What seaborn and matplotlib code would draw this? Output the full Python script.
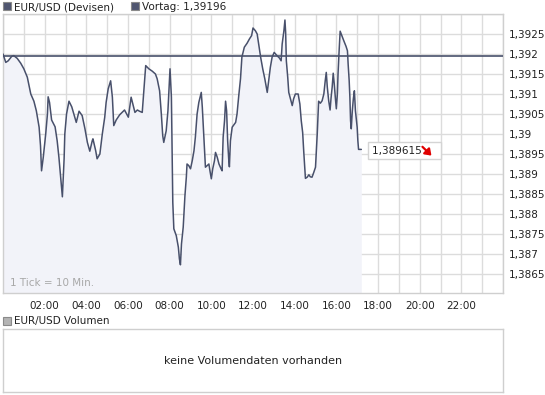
"""
EUR/USD intraday chart (Devisen) with previous close line and empty volume panel.
"""

import numpy as np
import pandas as pd
import matplotlib
matplotlib.use("Agg")
import matplotlib.pyplot as plt
from matplotlib.patches import Rectangle
from matplotlib.ticker import FixedLocator, FuncFormatter
import seaborn as sns

# Intraday quotes: minutes since 00:00 and price
MINUTES = [
    0, 8, 15, 25, 31, 41, 51, 60, 70, 80, 89, 96, 104, 108, 111, 116, 123, 128, 130, 134,
    140, 150, 156, 161, 166, 171, 176, 178, 183, 190, 198, 204, 211, 219, 228, 236, 243, 250, 257, 259,
    267, 271, 279, 286, 293, 297, 303, 310, 315, 319, 326, 336, 343, 350, 356, 361, 365, 369, 375, 380,
    387, 393, 401, 406, 411, 420, 430, 439, 444, 451, 456, 460, 463, 470, 475, 478, 481, 485, 487, 489,
    492, 499, 505, 508, 511, 514, 519, 521, 524, 528, 530, 535, 540, 545, 550, 554, 559, 564, 571, 574,
    576, 579, 583, 588, 593, 596, 600, 604, 609, 612, 617, 622, 628, 631, 634, 638, 641, 644, 647, 650,
    652, 655, 660, 665, 670, 674, 679, 684, 688, 695, 703, 710, 716, 720, 727, 732, 737, 742, 748, 754,
    761, 765, 770, 775, 781, 789, 796, 801, 804, 809, 812, 814, 816, 820, 823, 828, 833, 837, 842, 850,
    855, 859, 863, 866, 871, 876, 881, 885, 890, 895, 900, 905, 909, 914, 919, 924, 928, 931, 934, 938,
    942, 945, 948, 951, 954, 957, 960, 963, 965, 968, 971, 977, 982, 988, 992, 994, 997, 999, 1001, 1003,
    1006, 1009, 1012, 1015, 1020, 1022, 1024, 1032,
]
PRICES = [
    1.39200, 1.39179, 1.39183, 1.39194, 1.39196, 1.39189, 1.39177, 1.39163, 1.39142, 1.39100,
    1.39082, 1.39058, 1.39017, 1.38971, 1.38908, 1.38942, 1.39000, 1.39050, 1.39093, 1.39079,
    1.39035, 1.39018, 1.38983, 1.38942, 1.38892, 1.38843, 1.38938, 1.39000, 1.39050, 1.39082,
    1.39068, 1.39050, 1.39029, 1.39057, 1.39046, 1.39013, 1.38979, 1.38957, 1.38983, 1.38988,
    1.38958, 1.38938, 1.38950, 1.39000, 1.39042, 1.39079, 1.39113, 1.39133, 1.39092, 1.39021,
    1.39035, 1.39048, 1.39054, 1.39060, 1.39050, 1.39042, 1.39067, 1.39092, 1.39071, 1.39054,
    1.39060, 1.39057, 1.39054, 1.39113, 1.39171, 1.39163, 1.39157, 1.39150, 1.39138, 1.39108,
    1.39050, 1.38996, 1.38979, 1.39008, 1.39058, 1.39108, 1.39163, 1.39092, 1.38967, 1.38829,
    1.38763, 1.38746, 1.38717, 1.38688, 1.38673, 1.38725, 1.38767, 1.38800, 1.38846, 1.38892,
    1.38925, 1.38921, 1.38913, 1.38933, 1.38958, 1.38992, 1.39050, 1.39079, 1.39104, 1.39067,
    1.39033, 1.38983, 1.38917, 1.38921, 1.38925, 1.38908, 1.38888, 1.38913, 1.38933, 1.38954,
    1.38942, 1.38925, 1.38913, 1.38908, 1.38992, 1.39033, 1.39082, 1.39058, 1.38983, 1.38938,
    1.38918, 1.38983, 1.39017, 1.39023, 1.39029, 1.39050, 1.39096, 1.39138, 1.39192, 1.39217,
    1.39227, 1.39238, 1.39246, 1.39265, 1.39258, 1.39250, 1.39221, 1.39192, 1.39163, 1.39138,
    1.39104, 1.39133, 1.39167, 1.39192, 1.39204, 1.39196, 1.39190, 1.39183, 1.39225, 1.39258,
    1.39285, 1.39254, 1.39183, 1.39142, 1.39104, 1.39088, 1.39071, 1.39088, 1.39100, 1.39100,
    1.39075, 1.39033, 1.39004, 1.38958, 1.38889, 1.38892, 1.38898, 1.38893, 1.38892, 1.38904,
    1.38917, 1.39000, 1.39082, 1.39077, 1.39083, 1.39100, 1.39133, 1.39154, 1.39117, 1.39083,
    1.39060, 1.39092, 1.39117, 1.39152, 1.39125, 1.39092, 1.39063, 1.39100, 1.39152, 1.39208,
    1.39257, 1.39243, 1.39232, 1.39219, 1.39208, 1.39175, 1.39133, 1.39092, 1.39033, 1.39013,
    1.39058, 1.39088, 1.39108, 1.39058, 1.39017, 1.38983, 1.389615, 1.389615,
]
PREV_CLOSE = 1.39196
LAST_PRICE = 1.389615
Y_TICKS = [1.3865, 1.387, 1.3875, 1.388, 1.3885, 1.389, 1.3895,
           1.39, 1.3905, 1.391, 1.3915, 1.392, 1.3925]
Y_LIMITS = (1.386025, 1.393)
X_LABEL_HOURS = [2, 4, 6, 8, 10, 12, 14, 16, 18, 20, 22]

LINE = "#48506b"
FILL = "#f2f3f9"
GRID = "#dcdcdc"
BORDER = "#cfcfcf"
FS = 7.5

sns.set_style("white")
plt.rcParams["font.family"] = ["DejaVu Sans"]

df = pd.DataFrame({"minute": MINUTES, "price": PRICES})

fig = plt.figure(figsize=(5.45, 3.95), dpi=100)
W, H = 545, 395


def legend_square(x_px, y_px, color):
    # small swatch in front of a panel title (pixel position from top-left)
    fig.patches.append(Rectangle((x_px / W, 1 - (y_px + 8) / H), 8 / W, 8 / H,
                                 transform=fig.transFigure, fc=color,
                                 ec="#8a8a8a", lw=0.8))


# main price panel
ax = fig.add_axes([3 / W, 1 - 293 / H, 500 / W, 279 / H])
ax.fill_between(df["minute"], df["price"], Y_LIMITS[0], color=FILL, lw=0, zorder=1)
sns.lineplot(data=df, x="minute", y="price", color=LINE, lw=1.1, ax=ax, zorder=3)
ax.axhline(PREV_CLOSE, color=LINE, lw=1.2, zorder=4)

ax.set_xlim(0, 1440)
ax.set_ylim(*Y_LIMITS)
ax.xaxis.set_major_locator(FixedLocator(np.arange(0, 1441, 60)))
ax.xaxis.set_major_formatter(FuncFormatter(
    lambda v, p: f"{int(v // 60):02d}:00" if int(round(v / 60)) in X_LABEL_HOURS else ""))
ax.yaxis.tick_right()
ax.yaxis.set_major_locator(FixedLocator(Y_TICKS + [Y_LIMITS[1]]))
ax.yaxis.set_major_formatter(FuncFormatter(
    lambda v, p: "" if v > 1.3928 else f"{v:g}".replace(".", ",")))
ax.tick_params(axis="both", length=0, labelsize=FS, colors="#222222")
ax.tick_params(axis="x", pad=6)
ax.tick_params(axis="y", pad=4)
ax.grid(True, color=GRID, lw=1, zorder=0)
ax.set_axisbelow(True)
ax.set_xlabel("")
ax.set_ylabel("")
for s in ax.spines.values():
    s.set_color(BORDER)
    s.set_linewidth(1)

ax.text(0.014, 0.035, "1 Tick = 10 Min.", transform=ax.transAxes,
        fontsize=FS, color="#a8a8a8", va="center", ha="left")

# last price box with red down arrow
ax.text(1062, 1.38958, "1,389615     ", fontsize=FS, color="#222222",
        va="center", ha="left", zorder=6,
        bbox=dict(boxstyle="square,pad=0.35", fc="white", ec="#d4d4d4", lw=1))
ax.annotate("", xy=(1234, 1.38946), xytext=(1208, 1.38968),
            arrowprops=dict(arrowstyle="-|>,head_length=0.35,head_width=0.25",
                            color="#e00000", lw=1.6, shrinkA=0, shrinkB=0),
            zorder=7)

# header legend
legend_square(3, 2, "#505670")
fig.text(14 / W, 1 - 7 / H, "EUR/USD (Devisen)", fontsize=FS, color="#222222", va="center")
legend_square(131, 2, "#505670")
fig.text(142 / W, 1 - 7 / H, "Vortag: 1,39196", fontsize=FS, color="#222222", va="center")

# volume panel
legend_square(3, 317, "#b4b4b4")
fig.text(14 / W, 1 - 321 / H, "EUR/USD Volumen", fontsize=FS, color="#222222", va="center")
vax = fig.add_axes([3 / W, 1 - 392 / H, 500 / W, 63 / H])
vax.set_xticks([])
vax.set_yticks([])
for s in vax.spines.values():
    s.set_color(BORDER)
    s.set_linewidth(1)
vax.text(0.5, 0.5, "keine Volumendaten vorhanden", transform=vax.transAxes,
         fontsize=8, color="#222222", ha="center", va="center")

fig.savefig("out.png", dpi=100)
